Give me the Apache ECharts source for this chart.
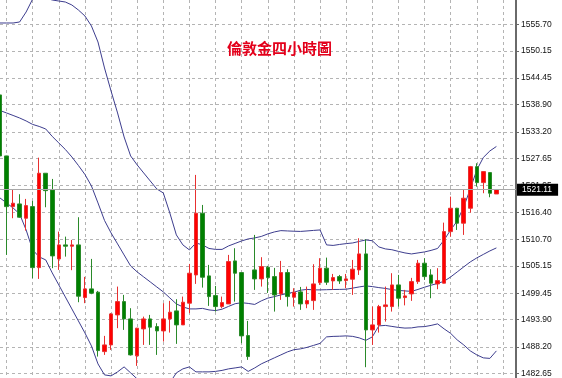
<!DOCTYPE html>
<html><head><meta charset="utf-8">
<script src="https://cdn.jsdelivr.net/npm/echarts@6/dist/echarts.min.js"></script>
<style>html,body{margin:0;padding:0;background:#fff;overflow:hidden}#c{width:562px;height:378px}</style>
</head><body><div id="c"></div>
<script>
const chartTitle = '倫敦金四小時圖';
const slotCount = 80;
const categories = Array.from({length: slotCount}, (_, i) => 'K' + i);
const opens = [1540.92,1528.16,1517.56,1518.12,1515.13,1517.56,1504.80,1524.54,1521.05,1506.62,
1509.55,1509.28,1509.55,1498.53,1500.35,1499.66,1487.23,1488.63,1494.91,1497.69,
1494.07,1486.34,1491.98,1494.07,1492.46,1491.56,1494.07,1495.75,1492.82,1497.36,
1503.27,1516.18,1503.07,1498.95,1496.65,1497.21,1506.20,1503.76,1490.58,1504.32,
1502.44,1504.88,1502.92,1499.30,1503.76,1498.61,1499.72,1497.21,1497.90,1501.66,
1504.68,1502.02,1502.92,1502.08,1502.38,1504.32,1507.67,1491.77,1492.82,1496.65,
1496.65,1501.18,1498.53,1499.30,1501.87,1505.72,1503.27,1501.39,1501.54,1512.33,
1517.22,1514.09,1517.22,1525.92,1522.58,1524.67,1520.21];
const closes = [1528.16,1517.56,1518.27,1515.34,1517.77,1504.80,1524.54,1520.90,1507.25,1509.55,
1509.28,1509.55,1498.82,1500.35,1499.45,1487.44,1488.63,1495.12,1497.69,1494.07,
1486.54,1492.13,1494.07,1492.34,1491.56,1494.07,1495.47,1492.82,1497.56,1503.63,
1516.18,1502.79,1498.74,1496.65,1497.48,1506.06,1503.63,1490.52,1486.19,1502.44,
1505.01,1502.71,1499.09,1503.76,1498.74,1499.66,1497.21,1497.90,1501.39,1504.68,
1501.75,1502.71,1502.02,1502.44,1504.47,1507.67,1491.77,1492.82,1496.65,1497.00,
1501.18,1498.40,1498.88,1501.87,1505.72,1502.92,1501.54,1502.08,1512.33,1517.22,
1514.09,1519.31,1525.92,1522.58,1524.88,1520.36,1521.11];
const lows = [1527.32,1507.46,1515.13,1515.20,1512.54,1502.58,1502.44,1517.43,1504.68,1504.32,
1507.10,1504.26,1497.56,1497.36,1499.24,1486.19,1486.54,1487.59,1492.13,1491.77,
1486.40,1484.24,1488.63,1488.63,1486.54,1489.33,1491.21,1488.85,1492.80,1495.27,
1501.39,1500.62,1496.79,1495.60,1496.31,1497.20,1497.69,1488.99,1485.50,1500.14,
1500.83,1499.50,1495.60,1498.05,1496.65,1496.65,1495.96,1496.31,1495.96,1501.18,
1501.18,1500.14,1501.39,1500.49,1499.09,1503.27,1483.97,1488.63,1491.21,1493.51,
1495.60,1496.65,1496.90,1497.84,1501.39,1502.23,1498.40,1500.28,1501.50,1511.28,
1512.68,1511.64,1516.30,1521.74,1520.36,1519.52,1520.20];
const highs = [1541.33,1528.20,1521.05,1520.15,1519.17,1518.75,1527.80,1524.54,1523.35,1512.33,
1511.28,1510.59,1515.34,1502.86,1506.62,1499.93,1490.52,1495.30,1500.83,1499.09,
1496.31,1492.20,1494.55,1494.91,1493.17,1497.36,1497.84,1498.19,1498.74,1505.57,
1524.19,1517.91,1505.37,1500.97,1498.74,1507.46,1508.86,1503.80,1493.65,1511.64,
1506.98,1505.16,1504.74,1506.20,1504.47,1500.49,1500.76,1500.83,1505.51,1506.77,
1506.89,1503.48,1503.27,1503.48,1506.41,1510.95,1510.74,1496.65,1497.00,1500.83,
1503.63,1503.27,1500.14,1502.65,1506.41,1506.77,1504.47,1504.68,1514.21,1519.65,
1517.30,1521.05,1526.07,1526.63,1524.90,1524.70,1521.15];
const upperBand = [1555.97,1555.97,1555.97,1556.18,1558.27,1560.99,1561.62,1561.20,1560.78,1560.57,
1560.36,1559.74,1558.69,1557.44,1555.34,1552.00,1546.56,1541.75,1537.15,1532.13,
1528.16,1526.28,1524.60,1522.93,1521.26,1520.42,1516.24,1511.64,1509.55,1508.50,
1509.96,1509.55,1508.81,1508.61,1508.61,1509.34,1509.86,1510.38,1510.80,1511.01,
1511.32,1511.85,1512.26,1512.54,1512.47,1512.41,1512.37,1512.47,1512.58,1512.68,
1509.55,1509.44,1509.65,1509.82,1509.96,1510.28,1510.59,1510.42,1509.13,1508.71,
1508.54,1508.19,1507.87,1507.66,1507.87,1508.08,1508.40,1508.81,1510.59,1512.68,
1514.56,1517.49,1521.26,1525.23,1527.84,1529.20,1530.14];
const middleBand = [1537.67,1537.15,1536.63,1536.10,1535.48,1534.75,1534.33,1533.80,1532.24,1530.88,
1529.52,1527.95,1526.17,1524.29,1521.88,1518.33,1514.67,1512.06,1509.76,1507.45,
1505.15,1503.90,1502.85,1501.81,1500.76,1499.72,1498.46,1497.21,1496.58,1496.16,
1496.16,1496.27,1495.95,1495.81,1496.10,1496.69,1497.25,1497.46,1497.31,1497.10,
1497.84,1498.42,1498.73,1499.09,1499.40,1499.65,1500.07,1500.24,1500.14,1500.14,
1500.18,1500.22,1500.24,1500.28,1500.51,1500.76,1500.97,1500.83,1500.62,1500.45,
1500.20,1500.03,1499.93,1499.82,1500.24,1500.70,1501.12,1501.49,1501.96,1502.85,
1503.90,1504.95,1505.99,1506.83,1507.56,1508.29,1508.92];
const lowerBand = [1519.37,1518.33,1517.28,1516.03,1512.68,1508.50,1507.04,1506.41,1503.69,1501.18,
1498.67,1496.16,1493.65,1491.14,1488.42,1484.66,1482.36,1482.15,1482.99,1484.03,
1482.78,1481.52,1481.11,1480.69,1480.27,1479.01,1480.69,1482.78,1483.62,1484.03,
1482.99,1482.99,1482.99,1483.09,1483.30,1483.62,1483.82,1484.03,1483.09,1483.82,
1484.66,1485.29,1485.92,1486.54,1487.17,1487.63,1487.80,1488.11,1488.53,1488.95,
1490.31,1490.41,1490.45,1490.52,1490.41,1490.10,1489.58,1490.31,1492.61,1492.71,
1492.50,1492.29,1492.15,1492.19,1492.40,1492.46,1492.71,1493.03,1491.98,1491.04,
1489.68,1488.63,1487.38,1486.54,1485.92,1485.81,1487.38];
const yTickValues = [1555.70,1550.15,1544.45,1538.90,1533.20,1527.65,1521.95,1516.40,1510.70,1505.15,1499.45,1493.90,1488.20,1482.65];
const yTickLabels = ['1555.70','1550.15','1544.45','1538.90','1533.20','1527.65','1521.95','1516.40','1510.70','1505.15','1499.45','1493.90','1488.20','1482.65'];
const lastPrice = 1521.11;

const candleData = opens.map((o, i) => [o, closes[i], lows[i], highs[i]]);
const bandColor = '#3d3d8e';
const gridDash = {color: '#b4b4b4', width: 1, type: [3, 3]};

const chart = echarts.init(document.getElementById('c'), null, {renderer: 'canvas'});
chart.setOption({
  animation: false,
  backgroundColor: '#ffffff',
  title: {
    text: chartTitle, left: 222, top: 36,
    textStyle: {color: '#e3001b', fontSize: 15, fontWeight: 'bold', fontFamily: 'Noto Sans CJK TC'}
  },
  grid: {left: -1.25, right: 46, top: 0, bottom: 0},
  xAxis: {
    type: 'category', data: categories, boundaryGap: false,
    axisLine: {show: false}, axisTick: {show: false}, axisLabel: {show: false},
    splitLine: {show: true, interval: (i) => i % 4 === 1, lineStyle: gridDash}
  },
  yAxis: {
    type: 'value', position: 'right', scale: true,
    min: 1481.73, max: 1560.78,
    axisLine: {show: true, lineStyle: {color: '#6a6a6a', width: 2}},
    axisTick: {show: true, length: 3, customValues: yTickValues, lineStyle: {color: '#6a6a6a'}},
    axisLabel: {
      show: true, margin: 5, customValues: yTickValues, color: '#111',
      fontSize: 8.5, fontFamily: 'Liberation Sans',
      formatter: (v) => { const k = yTickValues.findIndex(t => Math.abs(t - v) < 1e-6); return k >= 0 ? yTickLabels[k] : ''; }
    },
    splitLine: {show: true, lineStyle: gridDash}
  },
  series: [
    {
      type: 'candlestick', data: candleData, barWidth: 4,
      itemStyle: {color: '#ff0000', color0: '#008000', borderColor: '#e83030', borderColor0: '#2a8a2a', borderWidth: 1},
      markLine: {
        symbol: 'none', silent: true,
        lineStyle: {color: '#a8a8a8', width: 1, type: 'solid'},
        label: {
          position: 'end', distance: 1, formatter: lastPrice.toFixed(2),
          color: '#ffffff', backgroundColor: '#000000', padding: [2, 6, 1, 5],
          fontSize: 8.5, fontFamily: 'Liberation Sans'
        },
        data: [{yAxis: lastPrice}]
      },
      z: 3
    },
    {type: 'line', data: upperBand, symbol: 'none', lineStyle: {color: bandColor, width: 1}, z: 2},
    {type: 'line', data: middleBand, symbol: 'none', lineStyle: {color: bandColor, width: 1}, z: 2},
    {type: 'line', data: lowerBand, symbol: 'none', lineStyle: {color: bandColor, width: 1}, z: 2}
  ]
});
</script></body></html>
